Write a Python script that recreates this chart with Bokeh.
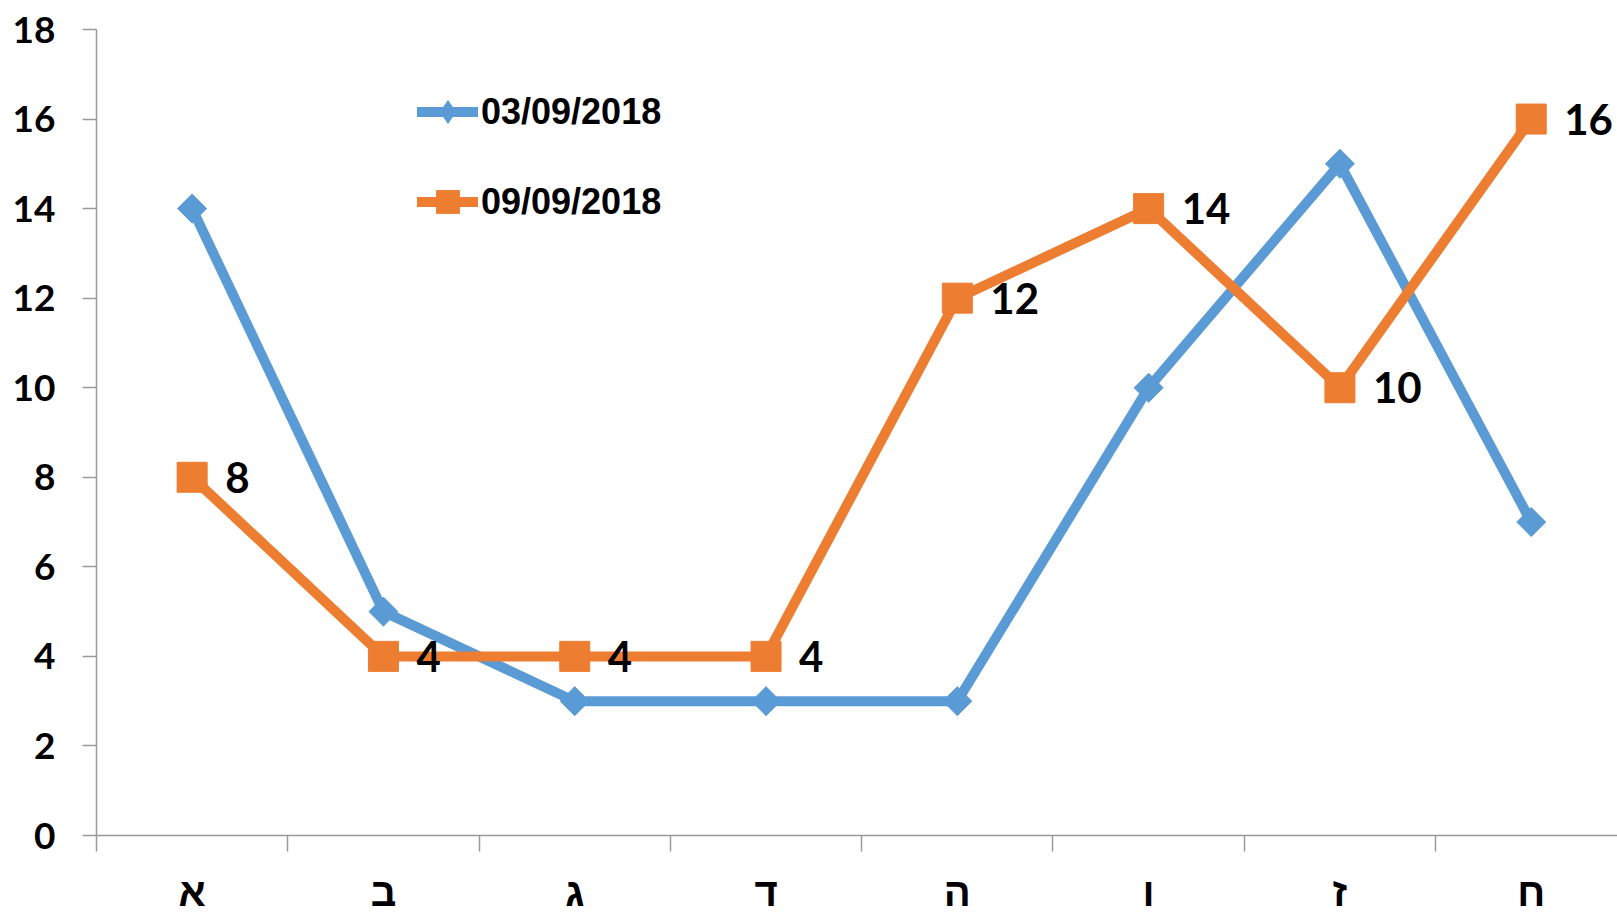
import math
from bokeh.plotting import figure
from bokeh.models import FixedTicker, Range1d, Legend, LegendItem, ColumnDataSource
from bokeh.core.properties import value
from bokeh.embed import file_html
from bokeh.resources import INLINE

categories = ["א", "ב", "ג", "ד", "ה", "ו", "ז", "ח"]
series_names = ["03/09/2018", "09/09/2018"]
values_0309 = [14, 5, 3, 3, 3, 10, 15, 7]
values_0909 = [8, 4, 4, 4, 12, 14, 10, 16]
y_ticks = [0, 2, 4, 6, 8, 10, 12, 14, 16, 18]

BLUE = "#5B9BD5"
ORANGE = "#ED7D31"
AXIS = "#9a9a9a"

xs = [i + 0.5 for i in range(len(categories))]

p = figure(width=1617, height=916, output_backend="svg", toolbar_location=None,
           x_range=Range1d(0, 7.951), y_range=Range1d(0, 18),
           min_border_left=96, min_border_right=0, min_border_top=29, min_border_bottom=80)
p.outline_line_color = None
p.xgrid.visible = False
p.ygrid.visible = False
p.background_fill_color = "white"

src_b = ColumnDataSource(dict(x=xs, y=values_0309))
src_o = ColumnDataSource(dict(x=xs, y=values_0909, lbl=[str(v) for v in values_0909]))

lb = p.line("x", "y", source=src_b, line_color=BLUE, line_width=10, line_join="round", line_cap="round")
# legend proxy (diamond), fully covered by the rotated squares drawn on top
mb_leg = p.scatter("x", "y", source=src_b, marker="diamond", size=28,
                   fill_color=BLUE, line_color=BLUE)
mb = p.scatter("x", "y", source=src_b, marker="square", size=20.5, angle=math.pi / 4,
               fill_color=BLUE, line_color=BLUE)
lo = p.line("x", "y", source=src_o, line_color=ORANGE, line_width=10, line_join="round", line_cap="round")
mo = p.scatter("x", "y", source=src_o, marker="square", size=30, fill_color=ORANGE, line_color=ORANGE)

p.text("x", "y", text="lbl", source=src_o, x_offset=33, text_baseline="middle", text_align="left",
       text_font=value("Lato"), text_font_style="bold", text_font_size="42px", text_color="black")

# y axis
ya = p.yaxis[0]
ya.ticker = FixedTicker(ticks=y_ticks)
ya.axis_line_color = AXIS
ya.axis_line_width = 1.5
ya.major_tick_line_color = AXIS
ya.major_tick_line_width = 1.5
ya.major_tick_out = 14
ya.major_tick_in = 0
ya.minor_tick_line_color = None
ya.major_label_standoff = 27
ya.major_label_text_font = "Lato"
ya.major_label_text_font_style = "bold"
ya.major_label_text_font_size = "37px"
ya.major_label_text_color = "black"

# x axis
xa = p.xaxis[0]
xa.ticker = FixedTicker(ticks=xs, minor_ticks=list(range(len(categories) + 1)))
xa.major_label_overrides = {x: c for x, c in zip(xs, categories)}
xa.axis_line_color = AXIS
xa.axis_line_width = 1.5
xa.major_tick_line_color = None
xa.major_tick_out = 0
xa.major_tick_in = 0
xa.minor_tick_line_color = AXIS
xa.minor_tick_line_width = 1.5
xa.minor_tick_out = 16
xa.minor_tick_in = 0
xa.major_label_standoff = 18
xa.major_label_text_font = "Liberation Sans"
xa.major_label_text_font_style = "bold"
xa.major_label_text_font_size = "40px"
xa.major_label_text_color = "black"

legend = Legend(items=[LegendItem(label=series_names[0], renderers=[lb, mb_leg]),
                       LegendItem(label=series_names[1], renderers=[lo, mo])],
                location=(321, 605), orientation="vertical",
                glyph_width=61, glyph_height=57, label_height=57, spacing=33,
                label_standoff=3, padding=0, margin=0,
                border_line_color=None, background_fill_alpha=0,
                label_text_font="Liberation Sans", label_text_font_style="bold",
                label_text_font_size="36px", label_text_color="black")
p.add_layout(legend)

open("out.html", "w").write(file_html(p, INLINE))
